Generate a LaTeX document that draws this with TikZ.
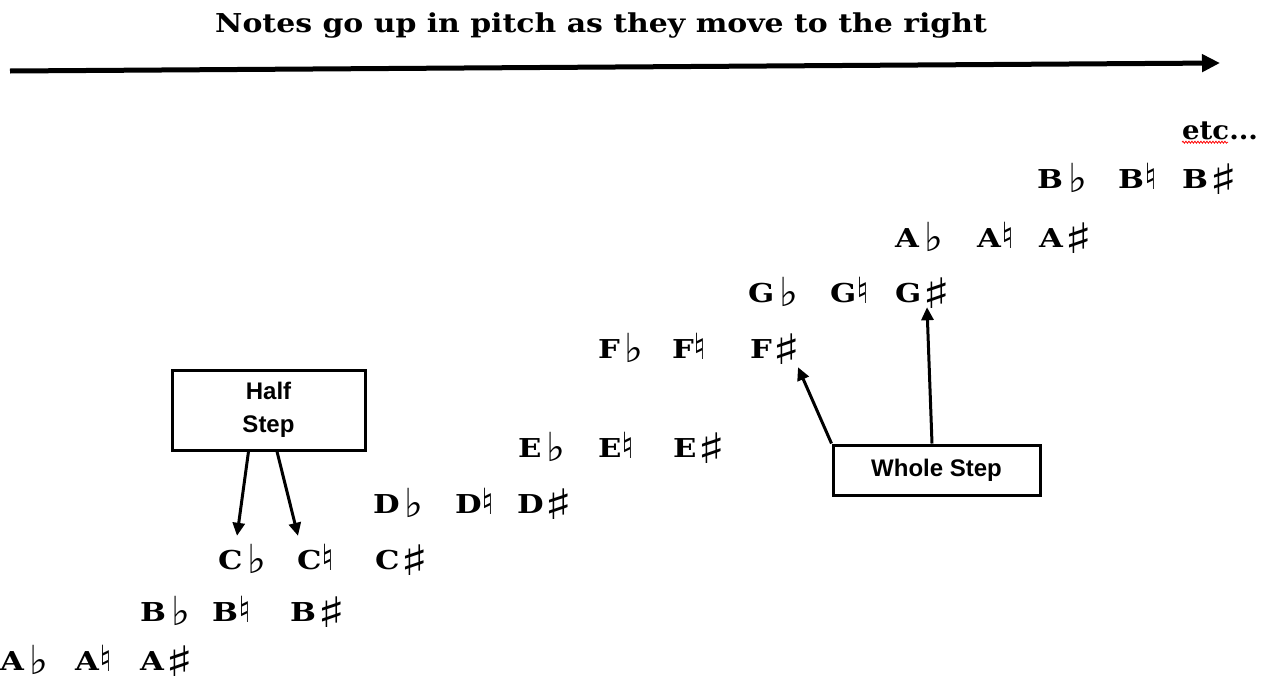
\documentclass[tikz,border=0pt]{standalone}
\usepackage{fontspec}
\usetikzlibrary{arrows.meta,decorations.pathmorphing}

\newfontfamily\notefont{DejaVu Serif}
\newfontfamily\accfont{DejaVu Sans}
\newfontfamily\labelfont{Liberation Sans}

% letters, widened a little; accidentals set large since the glyphs are small
\newcommand\ltr[1]{\scalebox{1.18}[1]{#1}}
\newcommand\nflat{\raisebox{-4pt}[\height][0pt]{\accfont\fontsize{40}{40}\selectfont ♭}}
\newcommand\nnat{\raisebox{-1pt}[\height][0pt]{\accfont\fontsize{36}{36}\selectfont ♮}}
\newcommand\nsharp{\raisebox{-6.5pt}[\height][0pt]{\scalebox{1.4}[1]{\accfont\fontsize{42}{42}\selectfont ♯}}}

\tikzset{
  notelbl/.style={anchor=base west, inner sep=0pt, text height=19pt, text depth=0pt,
    font=\notefont\bfseries\fontsize{26}{26}\selectfont},
  stepbox/.style={draw, line width=3pt, inner sep=0pt, align=center,
    font=\labelfont\bfseries\fontsize{24}{33}\selectfont},
  steparrow/.style={line width=3pt, -{Triangle[length=13pt,width=12pt]}},
}

\begin{document}
\begin{tikzpicture}[x=1pt,y=-1pt]
  \useasboundingbox (0,0) rectangle (1268,683);

  % heading and pitch direction
  \node[anchor=base west, inner sep=0pt, font=\notefont\bfseries\fontsize{26}{26}\selectfont]
    (title) at (215,32) {\scalebox{1.15}[1]{Notes go up in pitch as they move to the right}};
  \coordinate (axisL) at (10,71);
  \coordinate (axisR) at (1220,63);
  \draw[line width=5pt, -{Triangle[length=18pt,width=17pt]}] (axisL) -- (axisR);

  % note rows: name / letter / baseline / flat x / natural x / sharp x
  \foreach \nm/\lt/\yy/\xa/\xb/\xc in {
      Al/A/670/0/75/140,
      Bl/B/621/140/212/290,
      C/C/569/218/297/375,
      D/D/513/373/455/517,
      E/E/457/518/598/673,
      F/F/358/598/672/750,
      G/G/302/748/830/895,
      Ah/A/247/895/977/1039,
      Bh/B/188/1037/1118/1182} {
    \node[notelbl] (\nm-b) at (\xa,\yy) {\ltr{\lt}\hspace{5pt}\nflat};
    \node[notelbl] (\nm-n) at (\xb,\yy) {\ltr{\lt}\hspace{0pt}\nnat};
    \node[notelbl] (\nm-s) at (\xc,\yy) {\ltr{\lt}\hspace{1pt}\nsharp};
  }

  \node[notelbl] (etc) at (1182,139) {\scalebox{1.06}[1]{etc...}};
  \draw[red, line width=0.8pt, decorate,
        decoration={snake, amplitude=1pt, segment length=3pt}]
    ([yshift=-3pt]etc.south west) -- ([xshift=46pt,yshift=-3pt]etc.south west);

  % half step
  \node[stepbox, minimum width=193pt, minimum height=80pt] (half) at (268.5,410) {Half\\Step};
  \draw[steparrow] ([xshift=-20pt]half.south) -- ([xshift=19pt,yshift=14pt]C-b.north west);
  \draw[steparrow] ([xshift=8.5pt]half.south) -- ([xshift=1pt,yshift=14pt]C-n.north west);

  % whole step
  \node[stepbox, minimum width=207pt, minimum height=50pt] (whole) at (936.5,470) {Whole Step};
  \draw[steparrow] (whole.north west) -- ([xshift=48pt,yshift=-9pt]F-s.south west);
  \draw[steparrow] ([xshift=-4.5pt]whole.north) -- ([xshift=32pt,yshift=-5pt]G-s.south west);
\end{tikzpicture}
\end{document}
